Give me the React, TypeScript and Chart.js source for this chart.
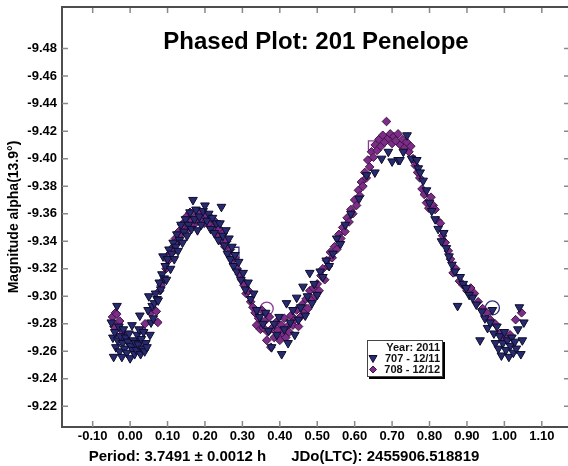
import React, { useEffect, useRef } from 'react';
import { Chart, registerables } from 'chart.js';

Chart.register(...registerables);

const chartTitle = 'Phased Plot: 201 Penelope';
const xTitle = 'Period: 3.7491 ± 0.0012 h      JDo(LTC): 2455906.518819';
const yTitle = 'Magnitude alpha(13.9°)';
const legendTitle = 'Year: 2011';
const seriesNames = ['707 - 12/11', '708 - 12/12'];

const xTicks = [-0.1, 0, 0.1, 0.2, 0.3, 0.4, 0.5, 0.6, 0.7, 0.8, 0.9, 1.0, 1.1];
const yTicks = [-9.48, -9.46, -9.44, -9.42, -9.4, -9.38, -9.36, -9.34, -9.32, -9.3, -9.28, -9.26, -9.24, -9.22];
const xRange = [-0.182, 1.17];
const yRange = [-9.5102, -9.205];

// session 707 (triangles): [phase, magnitude]
const s707: [number, number][] = [
  [-0.050, -9.281], [-0.046, -9.270], [-0.044, -9.256], [-0.041, -9.274], [-0.038, -9.263], [-0.035, -9.293],
  [-0.033, -9.268], [-0.030, -9.278], [-0.028, -9.260], [-0.026, -9.271], [-0.022, -9.256], [-0.020, -9.266],
  [-0.018, -9.276], [-0.015, -9.262], [-0.012, -9.270], [-0.009, -9.259], [-0.006, -9.267], [-0.003, -9.273],
  [0.000, -9.255], [0.002, -9.264], [0.005, -9.279], [0.007, -9.261], [0.009, -9.268], [0.012, -9.258],
  [0.014, -9.266], [0.017, -9.261], [0.019, -9.272], [0.022, -9.265], [0.024, -9.276], [0.026, -9.286],
  [0.028, -9.258], [0.030, -9.269], [0.033, -9.262], [0.036, -9.274], [0.039, -9.260], [0.042, -9.266],
  [0.045, -9.263], [0.048, -9.290], [0.050, -9.300], [0.053, -9.272], [0.056, -9.281], [0.059, -9.293],
  [0.062, -9.284], [0.065, -9.295], [0.068, -9.302], [0.072, -9.298], [0.075, -9.297], [0.078, -9.310],
  [0.082, -9.305], [0.085, -9.316], [0.088, -9.329], [0.091, -9.313], [0.094, -9.322], [0.097, -9.312],
  [0.100, -9.327], [0.104, -9.334], [0.108, -9.320], [0.111, -9.331], [0.115, -9.339], [0.118, -9.327],
  [0.122, -9.336], [0.125, -9.345], [0.128, -9.333], [0.132, -9.341], [0.136, -9.352], [0.140, -9.339],
  [0.144, -9.347], [0.148, -9.356], [0.152, -9.344], [0.156, -9.352], [0.160, -9.361], [0.164, -9.349],
  [0.168, -9.370], [0.172, -9.356], [0.176, -9.363], [0.180, -9.348], [0.185, -9.358], [0.190, -9.352],
  [0.195, -9.362], [0.200, -9.366], [0.205, -9.355], [0.210, -9.360], [0.215, -9.349], [0.220, -9.357],
  [0.225, -9.346], [0.230, -9.353], [0.236, -9.341], [0.240, -9.353], [0.244, -9.365], [0.248, -9.344],
  [0.252, -9.337], [0.256, -9.348], [0.260, -9.331], [0.264, -9.342], [0.268, -9.327], [0.272, -9.336],
  [0.276, -9.322], [0.280, -9.330], [0.285, -9.318], [0.290, -9.325], [0.296, -9.312], [0.302, -9.317],
  [0.308, -9.305], [0.315, -9.310], [0.322, -9.298], [0.330, -9.302], [0.338, -9.290], [0.346, -9.285],
  [0.355, -9.280], [0.362, -9.288], [0.370, -9.275], [0.378, -9.263], [0.385, -9.280], [0.392, -9.272],
  [0.398, -9.285], [0.405, -9.258], [0.412, -9.276], [0.418, -9.295], [0.422, -9.266], [0.428, -9.281],
  [0.435, -9.290], [0.440, -9.272], [0.445, -9.299], [0.450, -9.283], [0.456, -9.292], [0.462, -9.307],
  [0.468, -9.286], [0.474, -9.300], [0.480, -9.317], [0.486, -9.295], [0.492, -9.309], [0.500, -9.301],
  [0.508, -9.318], [0.515, -9.314], [0.524, -9.326], [0.532, -9.322], [0.542, -9.331], [0.552, -9.342],
  [0.562, -9.338], [0.575, -9.352], [0.590, -9.360], [0.612, -9.371], [0.632, -9.388], [0.654, -9.390],
  [0.672, -9.400], [0.690, -9.405], [0.700, -9.398], [0.716, -9.399], [0.721, -9.399], [0.730, -9.405],
  [0.740, -9.417], [0.752, -9.400], [0.766, -9.399], [0.770, -9.393], [0.775, -9.390], [0.783, -9.384],
  [0.792, -9.377], [0.800, -9.368], [0.806, -9.362], [0.815, -9.356], [0.823, -9.349], [0.832, -9.340],
  [0.838, -9.346], [0.845, -9.335], [0.852, -9.329], [0.860, -9.323], [0.868, -9.318], [0.875, -9.293],
  [0.882, -9.314], [0.890, -9.309], [0.898, -9.306], [0.906, -9.301], [0.915, -9.299], [0.925, -9.294],
  [0.935, -9.268], [0.940, -9.289], [0.948, -9.284], [0.955, -9.277], [0.962, -9.281], [0.968, -9.290],
  [0.972, -9.273], [0.976, -9.266], [0.980, -9.278], [0.984, -9.262], [0.988, -9.271], [0.992, -9.257],
  [0.996, -9.266], [1.000, -9.274], [1.004, -9.261], [1.008, -9.268], [1.012, -9.256], [1.016, -9.264],
  [1.020, -9.270], [1.024, -9.259], [1.028, -9.267], [1.032, -9.262], [1.036, -9.276], [1.040, -9.292],
  [1.044, -9.258], [1.048, -9.268], [1.052, -9.281],
];

// session 708 (diamonds): [phase, magnitude]
const s708: [number, number][] = [
  [-0.047, -9.285], [-0.043, -9.278], [-0.039, -9.288], [-0.036, -9.287], [-0.032, -9.280], [-0.028, -9.282],
  [-0.024, -9.276], [-0.020, -9.273], [-0.015, -9.270], [-0.010, -9.268], [0.026, -9.267], [0.031, -9.262],
  [0.035, -9.275], [0.040, -9.280], [0.055, -9.288], [0.062, -9.291], [0.070, -9.289], [0.074, -9.281],
  [0.079, -9.304], [0.083, -9.308], [0.090, -9.312], [0.096, -9.320], [0.102, -9.326], [0.106, -9.331],
  [0.112, -9.335], [0.117, -9.333], [0.121, -9.342], [0.126, -9.340], [0.130, -9.347], [0.134, -9.345],
  [0.138, -9.352], [0.142, -9.350], [0.147, -9.354], [0.151, -9.358], [0.155, -9.349], [0.160, -9.361],
  [0.165, -9.355], [0.170, -9.352], [0.175, -9.358], [0.180, -9.355], [0.186, -9.360], [0.192, -9.356],
  [0.198, -9.353], [0.204, -9.359], [0.210, -9.352], [0.216, -9.357], [0.222, -9.350], [0.228, -9.354],
  [0.233, -9.345], [0.238, -9.349], [0.243, -9.340], [0.248, -9.346], [0.253, -9.336], [0.258, -9.340],
  [0.263, -9.331], [0.268, -9.334], [0.274, -9.326], [0.280, -9.328], [0.286, -9.320], [0.292, -9.316],
  [0.298, -9.312], [0.304, -9.308], [0.310, -9.302], [0.316, -9.304], [0.322, -9.296], [0.328, -9.292],
  [0.334, -9.288], [0.338, -9.279], [0.343, -9.284], [0.348, -9.276], [0.352, -9.290], [0.356, -9.277],
  [0.360, -9.282], [0.365, -9.268], [0.368, -9.274], [0.372, -9.285], [0.376, -9.263], [0.380, -9.277],
  [0.385, -9.270], [0.390, -9.281], [0.395, -9.275], [0.400, -9.268], [0.404, -9.279], [0.408, -9.273],
  [0.412, -9.284], [0.416, -9.270], [0.420, -9.278], [0.425, -9.274], [0.430, -9.286], [0.435, -9.279],
  [0.440, -9.283], [0.445, -9.290], [0.450, -9.278], [0.455, -9.285], [0.460, -9.294], [0.465, -9.288],
  [0.470, -9.298], [0.475, -9.291], [0.480, -9.304], [0.485, -9.297], [0.490, -9.306], [0.495, -9.300],
  [0.500, -9.309], [0.505, -9.304], [0.510, -9.315], [0.515, -9.320], [0.520, -9.312], [0.525, -9.326],
  [0.530, -9.322], [0.535, -9.332], [0.540, -9.328], [0.546, -9.336], [0.552, -9.334], [0.558, -9.345],
  [0.563, -9.342], [0.568, -9.350], [0.574, -9.347], [0.580, -9.357], [0.585, -9.354], [0.590, -9.363],
  [0.595, -9.360], [0.600, -9.370], [0.605, -9.366], [0.610, -9.377], [0.614, -9.373], [0.618, -9.383],
  [0.622, -9.380], [0.627, -9.390], [0.631, -9.386], [0.635, -9.399], [0.640, -9.394], [0.645, -9.405],
  [0.650, -9.401], [0.655, -9.410], [0.660, -9.406], [0.665, -9.414], [0.670, -9.409], [0.675, -9.417],
  [0.680, -9.412], [0.685, -9.427], [0.690, -9.415], [0.695, -9.418], [0.700, -9.411], [0.705, -9.416],
  [0.710, -9.413], [0.716, -9.418], [0.722, -9.410], [0.728, -9.414], [0.734, -9.408], [0.739, -9.412],
  [0.745, -9.405], [0.750, -9.409], [0.756, -9.400], [0.762, -9.395], [0.768, -9.390], [0.774, -9.386],
  [0.780, -9.378], [0.786, -9.374], [0.792, -9.368], [0.798, -9.364], [0.804, -9.372], [0.810, -9.366],
  [0.815, -9.363], [0.822, -9.355], [0.829, -9.353], [0.835, -9.344], [0.842, -9.339], [0.850, -9.333],
  [0.856, -9.327], [0.863, -9.317], [0.870, -9.320], [0.880, -9.311], [0.890, -9.308], [0.900, -9.304],
  [0.910, -9.306], [0.920, -9.302], [0.930, -9.296], [0.942, -9.291], [0.953, -9.288], [0.962, -9.283],
  [0.975, -9.280], [0.988, -9.273], [1.000, -9.269], [1.015, -9.272], [1.030, -9.283], [1.046, -9.288],
];

// highlighted (comparison) observations
const hl707: [number, number][] = [[0.276, -9.3316], [0.968, -9.2915]];
const hl707Styles = ['rect', 'circle'];
const hl708: [number, number][] = [[0.365, -9.291], [0.651, -9.409]];
const hl708Styles = ['circle', 'rect'];

const NAVY = '#282a70';
const NAVY_EDGE = '#0c0c2c';
const PURPLE = '#7d2d88';
const PURPLE_EDGE = '#3e1446';
const FONT = '"Liberation Sans", Arial, sans-serif';

const toXY = (arr: [number, number][]) => arr.map(([x, y]) => ({ x, y }));

export default function App() {
  const ref = useRef<HTMLCanvasElement | null>(null);

  useEffect(() => {
    if (!ref.current) return;

    const framePlugin = {
      id: 'frame',
      beforeDatasetsDraw(chart: any) {
        const { ctx, chartArea, scales } = chart;
        const { left, right, top, bottom } = chartArea;
        ctx.save();
        ctx.strokeStyle = '#8a8a8a';
        ctx.lineWidth = 1.5;
        ctx.beginPath();
        xTicks.forEach((v) => {
          const px = scales.x.getPixelForValue(v);
          ctx.moveTo(px, bottom);
          ctx.lineTo(px, bottom - 6);
          ctx.moveTo(px, top);
          ctx.lineTo(px, top + 6);
        });
        yTicks.forEach((v) => {
          const py = scales.y.getPixelForValue(v);
          ctx.moveTo(left, py);
          ctx.lineTo(left + 6, py);
          ctx.moveTo(right, py);
          ctx.lineTo(right - 4, py);
        });
        ctx.stroke();
        ctx.strokeStyle = '#4d4d4d';
        ctx.lineWidth = 2;
        ctx.beginPath();
        ctx.moveTo(left - 1, top);
        ctx.lineTo(right, top);
        ctx.stroke();
        ctx.restore();
      },
      afterDraw(chart: any) {
        const { ctx, chartArea, width } = chart;
        ctx.save();
        // main title inside plot
        ctx.fillStyle = '#000';
        ctx.textAlign = 'center';
        ctx.textBaseline = 'middle';
        ctx.font = `bold 24px ${FONT}`;
        ctx.fillText(chartTitle, (chartArea.left + chartArea.right) / 2 + 1, chartArea.top + 35);
        // bottom caption
        ctx.font = `bold 15px ${FONT}`;
        ctx.fillText(xTitle, width / 2, 457);

        // legend box
        const lx = 367, ly = 340, lw = 76, lh = 37;
        ctx.fillStyle = '#000';
        ctx.fillRect(lx + 2, ly + 2, lw, lh);
        ctx.fillStyle = '#fff';
        ctx.fillRect(lx, ly, lw, lh);
        ctx.strokeStyle = '#444';
        ctx.lineWidth = 1;
        ctx.strokeRect(lx + 0.5, ly + 0.5, lw - 1, lh - 1);

        ctx.font = `bold 11px ${FONT}`;
        ctx.fillStyle = '#111';
        ctx.textAlign = 'right';
        ctx.fillText(legendTitle, lx + lw - 3, ly + 7.5);
        ctx.fillText(seriesNames[0], lx + lw - 3, ly + 18.5);
        ctx.fillText(seriesNames[1], lx + lw - 3, ly + 29.5);

        // legend markers
        const mx = lx + 6;
        let my = ly + 18.5;
        ctx.beginPath();
        ctx.moveTo(mx - 4, my - 3);
        ctx.lineTo(mx + 4, my - 3);
        ctx.lineTo(mx, my + 4);
        ctx.closePath();
        ctx.fillStyle = NAVY;
        ctx.fill();
        ctx.strokeStyle = NAVY_EDGE;
        ctx.stroke();
        my = ly + 29.5;
        ctx.beginPath();
        ctx.moveTo(mx - 3.5, my);
        ctx.lineTo(mx, my - 3.5);
        ctx.lineTo(mx + 3.5, my);
        ctx.lineTo(mx, my + 3.5);
        ctx.closePath();
        ctx.fillStyle = PURPLE;
        ctx.fill();
        ctx.strokeStyle = PURPLE_EDGE;
        ctx.stroke();
        ctx.restore();
      },
    };

    const chart = new Chart(ref.current, {
      type: 'scatter',
      data: {
        datasets: [
          {
            label: seriesNames[0],
            data: toXY(s707),
            pointStyle: 'triangle',
            rotation: 180,
            radius: 5,
            backgroundColor: NAVY,
            borderColor: NAVY_EDGE,
            borderWidth: 1,
          },
          {
            label: seriesNames[1],
            data: toXY(s708),
            pointStyle: 'rectRot',
            radius: 4.3,
            backgroundColor: PURPLE,
            borderColor: PURPLE_EDGE,
            borderWidth: 1,
          },
          {
            label: 'hl707',
            data: toXY(hl707),
            pointStyle: hl707Styles as any,
            radius: [7.8, 7],
            backgroundColor: 'rgba(0,0,0,0)',
            borderColor: '#2d3080',
            borderWidth: 1.3,
          },
          {
            label: 'hl708',
            data: toXY(hl708),
            pointStyle: hl708Styles as any,
            radius: [6.5, 7.5],
            backgroundColor: 'rgba(0,0,0,0)',
            borderColor: '#8a3a95',
            borderWidth: 1.3,
          },
        ] as any,
      },
      options: {
        animation: false,
        responsive: false,
        devicePixelRatio: 1,
        events: [],
        layout: { autoPadding: false, padding: { top: 7, right: 0, left: 0, bottom: 0 } },
        plugins: {
          legend: { display: false },
          tooltip: { enabled: false },
          title: { display: false },
        },
        scales: {
          x: {
            type: 'linear',
            position: 'bottom',
            min: xRange[0],
            max: xRange[1],
            afterBuildTicks: (axis: any) => {
              axis.ticks = xTicks.map((v) => ({ value: v }));
            },
            afterFit: (axis: any) => {
              axis.height = 39;
              axis.paddingLeft = 0;
              axis.paddingRight = 0;
            },
            ticks: {
              autoSkip: false,
              maxRotation: 0,
              padding: 2,
              color: '#000',
              font: { family: FONT, size: 13, weight: 'bold' },
              callback: (v: any) => Number(v).toFixed(2),
            },
            grid: { display: false, drawTicks: false },
            border: { display: true, color: '#4d4d4d', width: 2 },
          },
          y: {
            type: 'linear',
            position: 'left',
            reverse: true,
            min: yRange[0],
            max: yRange[1],
            afterBuildTicks: (axis: any) => {
              axis.ticks = yTicks.map((v) => ({ value: v }));
            },
            afterFit: (axis: any) => {
              axis.width = 62;
              axis.paddingTop = 0;
              axis.paddingBottom = 0;
            },
            ticks: {
              autoSkip: false,
              padding: 5,
              color: '#000',
              font: { family: FONT, size: 13, weight: 'bold' },
              callback: (v: any) => Number(v).toFixed(2),
            },
            title: {
              display: true,
              text: yTitle,
              color: '#000',
              padding: { top: 6, bottom: 0 },
              font: { family: FONT, size: 14, weight: 'bold' },
            },
            grid: { display: false, drawTicks: false },
            border: { display: true, color: '#4d4d4d', width: 2 },
          },
        },
      } as any,
      plugins: [framePlugin],
    });

    return () => chart.destroy();
  }, []);

  return (
    <div style={{ position: 'absolute', left: 0, top: 0, width: 568, height: 466, background: '#fff' }}>
      <canvas ref={ref} width={568} height={466} style={{ display: 'block', width: 568, height: 466 }} />
    </div>
  );
}
